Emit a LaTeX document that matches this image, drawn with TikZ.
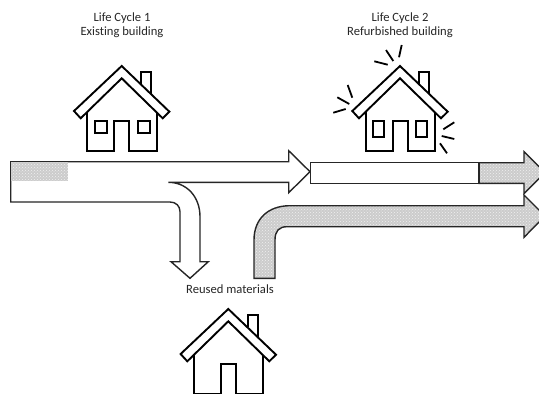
\documentclass[tikz,border=0pt]{standalone}
\usepackage{fontspec}
\setmainfont[Ligatures=NoCommon]{Carlito}
\usetikzlibrary{patterns}
\tikzset{
  flow/.style={draw=black!85, line width=1.4pt, fill=white, line join=miter},
  dotfill/.style={preaction={fill=black!20}, pattern=crosshatch dots, pattern color=white!60!black!15},
  flowgray/.style={flow, dotfill},
  caption/.style={font=\fontsize{12.6}{14}\selectfont, text=black!85, align=center, inner sep=0pt},
  wall/.style={line width=1.9pt, line join=miter},
  ray/.style={line width=1.8pt},
  house/.pic={
    \draw[wall] (0,0) -- (-47.7,45) -- (-41,52.3) -- (0,12.3) -- (41,52.3) -- (47.7,45.7) -- cycle;
    \draw[wall] (-34.4,45.9) -- (-34.4,84.7) -- (-7.4,84.7) -- (-7.4,54.7) -- (7.6,54.7) -- (7.6,84.7) -- (35,84.7) -- (35,45.9);
    \draw[wall] (19.3,18.3) -- (19.3,6.3) -- (29.3,6.3) -- (29.3,28);
  }
}
\begin{document}
\begin{tikzpicture}[x=1pt,y=-1pt]
\useasboundingbox (0,0) rectangle (539,394);
\clip (0,0) rectangle (539,394);
\node[caption] (cycle1) at (122,25) {Life Cycle 1\\Existing building};
\node[caption] (cycle2) at (400,25) {Life Cycle 2\\Refurbished building};
\node[caption] (reused) at (230,289) {Reused materials};
\pic at (121.7,66) {house};
\pic at (400,66) {house};
\pic at (228.3,309) {house};
\draw[wall] (95,120.7) rectangle (107.3,132.7);
\draw[wall] (137.7,120.7) rectangle (150,132.7);
\draw[wall] (372.7,120.7) rectangle (384,137);
\draw[wall] (415.7,120.7) rectangle (427.3,137);
\draw[ray] (401.7,45) -- (399,57.3);
\draw[ray] (386,50) -- (393.3,61);
\draw[ray] (374.3,61.3) -- (387.7,64.7);
\draw[ray] (347.7,85) -- (352.3,97.7);
\draw[ray] (337.3,97.3) -- (349.3,104);
\draw[ray] (333.3,112.7) -- (345.7,109);
\draw[ray] (454.3,122.3) -- (443.3,129.3);
\draw[ray] (441.7,136) -- (454.3,139);
\draw[ray] (440,143.3) -- (447,153.3);
\draw[flow] (10.7,161.7) -- (288.7,161.7) -- (288.7,150.7) -- (310,171.7) -- (288.7,192.7) -- (288.7,182.3) -- (168.3,182.3)
  .. controls (187,182.3) and (200,197) .. (200,216.7) -- (200,261.7) -- (208.3,261.7) -- (190,278.3) -- (171,261.7) -- (180,261.7) -- (180,211.7)
  .. controls (180,206) and (176,202) .. (170,202) -- (10.7,202) -- cycle;
\fill[dotfill] (11.4,162.4) rectangle (68.3,180.7);
\draw[flowgray] (479,162.7) -- (524,162.7) -- (524,151.7) -- (545,172.7) -- (524,193.7) -- (524,183.3) -- (479,183.3) -- cycle;
\draw[flow] (310.3,162.7) rectangle (479,183.3);
\draw[flowgray] (254,278.3) -- (254,240) .. controls (254,219) and (268,205.7) .. (290,205.7) -- (524,205.7) -- (524,195) -- (545,216) -- (524,237.3) -- (524,226.7) -- (287,226.7)
  .. controls (279,226.7) and (275,231) .. (275,240) -- (275,278.3) -- cycle;
\end{tikzpicture}
\end{document}
